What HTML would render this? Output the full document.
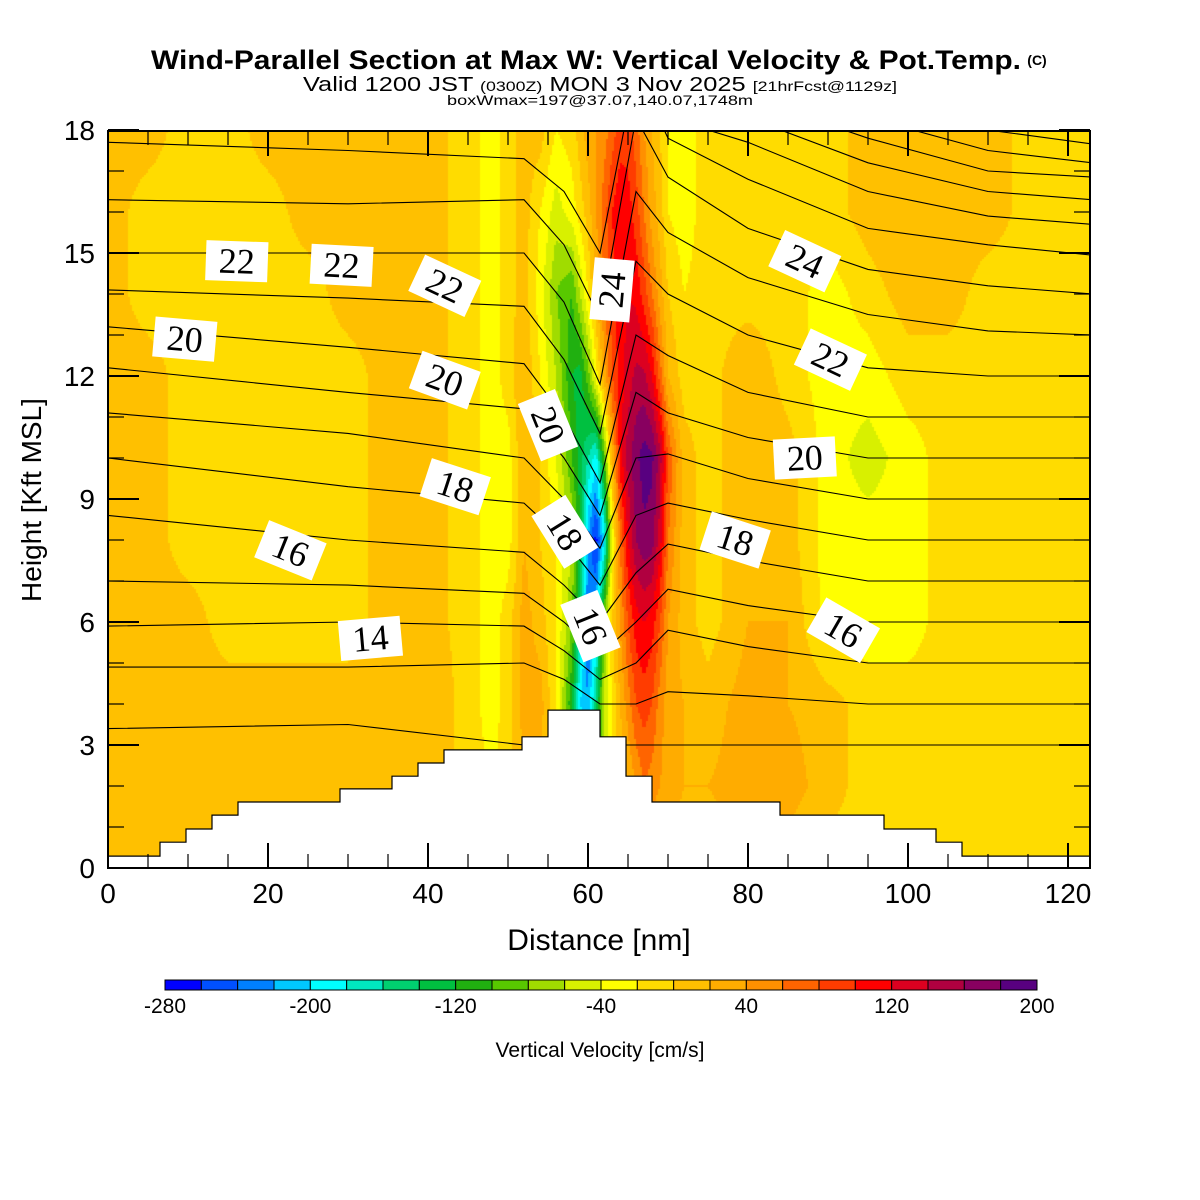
<!DOCTYPE html>
<html><head><meta charset="utf-8">
<style>
html,body{margin:0;padding:0;background:#fff;}
#wrap{position:relative;width:1200px;height:1200px;overflow:hidden;font-family:"Liberation Sans",sans-serif;}
#field{position:absolute;left:108px;top:131px;}
#ov{position:absolute;left:0;top:0;}
</style></head>
<body>
<div id="wrap">
<canvas id="field" width="982" height="737"></canvas>
<svg id="ov" width="1200" height="1200" xmlns="http://www.w3.org/2000/svg">
<defs><clipPath id="pc"><rect x="108" y="131" width="982" height="737"/></clipPath></defs>
<g id="contours" clip-path="url(#pc)"></g>
<g id="terrain"></g>
<g id="labels"></g>
<rect x="108" y="131" width="982" height="737" fill="none" stroke="#000" stroke-width="2"/>
<g id="axes"></g>
<text x="586" y="69" text-anchor="middle" font-family="'Liberation Sans Narrow','Liberation Sans',sans-serif" font-weight="bold" font-size="27" textLength="870" lengthAdjust="spacingAndGlyphs">Wind-Parallel Section at Max W: Vertical Velocity &amp; Pot.Temp.</text>
<text x="1037" y="65" text-anchor="middle" font-family="'Liberation Sans Narrow','Liberation Sans',sans-serif" font-weight="bold" font-size="14">(C)</text>
<text x="600" y="91" text-anchor="middle" font-family="'Liberation Sans Narrow','Liberation Sans',sans-serif" font-size="20" textLength="594" lengthAdjust="spacingAndGlyphs">Valid 1200 JST <tspan font-size="14">(0300Z)</tspan> MON 3 Nov 2025 <tspan font-size="14">[21hrFcst@1129z]</tspan></text>
<text x="600" y="105" text-anchor="middle" font-family="'Liberation Sans Narrow','Liberation Sans',sans-serif" font-size="14" textLength="306" lengthAdjust="spacingAndGlyphs">boxWmax=197@37.07,140.07,1748m</text>
<text x="599" y="950" text-anchor="middle" font-size="30">Distance [nm]</text>
<text transform="translate(41,500) rotate(-90)" text-anchor="middle" font-size="28">Height [Kft MSL]</text>
<g id="cbar"></g>
<text x="600" y="1057" text-anchor="middle" font-size="21">Vertical Velocity [cm/s]</text>
</svg>
</div>
<script>
// ---- data ----
const colors=["#0000FF","#0050FF","#0080FF","#00C8FF","#00FFFF","#00E8C0","#00D070","#00C040","#20B010","#58C800","#A0DC00","#D8F000","#FFFF00","#FFDC00","#FFC000","#FFAC00","#FF9000","#FF6400","#FF3C00","#FF0000","#DC0020","#B00040","#880060","#580080"];
const cbarTicks=[-280,-200,-120,-40,40,120,200];
const gridX=[0,5,10,15,20,25,30,35,40,45,48,50,52,54,56,58,59,60,61,62,63,64,65,66,67,68,69,70,72,75,80,85,90,95,100,105,110,116,123];
const gridZ=[0,2,4,6,8,10,12,14,16,18];
const w0 =[10,10,10,10,10,10,10,10,10,10,10,10,10,10,10,10,10,10,10,10,10,10,10,10,10,10,10,10,10,10,10,10,-10,-10,-10,-10,-10,-10,-10];
const w2 =[10,10,10,10,10,10,10,10,20,-10,-20,-10,20,20,0,-60,-100,-120,-100,-40,-20,0,20,40,60,50,40,30,20,20,30,30,10,-10,-10,-10,-10,-10,-10];
const w4 =[10,10,10,10,10,10,10,10,20,-10,-30,-10,30,30,-20,-120,-200,-220,-150,-60,-20,20,50,80,90,80,50,30,20,10,30,20,10,-10,-10,-10,-10,-10,-10];
const w6 =[10,10,10,-10,-10,-10,-10,10,10,-10,-30,-10,30,10,-20,-80,-160,-240,-200,-80,0,40,80,110,120,110,80,40,10,-10,20,20,-30,-30,-30,-10,-10,-10,-10];
const w8 =[10,10,-10,-10,-10,-10,-10,10,10,-10,-30,-30,20,0,-20,-60,-120,-220,-270,-200,-40,60,120,160,175,170,130,60,10,-10,20,10,-30,-30,-30,-10,-10,-10,-10];
const w10=[10,10,-10,-10,-10,-10,-10,10,10,-10,-30,-30,20,0,-40,-100,-130,-160,-190,-100,20,110,150,175,190,185,150,80,10,-10,20,10,-30,-50,-30,-10,-10,-10,-10];
const w12=[10,10,-10,-10,-10,-10,-10,10,10,-10,-30,-10,20,-20,-60,-120,-130,-90,-30,30,80,110,130,145,145,120,70,20,-10,-10,20,-10,-30,-30,-10,-10,-10,-10,-10];
const w14=[10,-10,-10,-10,-10,-10,10,10,10,-10,-30,-10,10,-30,-80,-100,-60,-20,20,60,90,110,120,115,90,60,30,0,-20,-10,-10,-10,-30,-10,10,10,-10,-10,-10];
const w16=[10,-10,-10,-10,-10,10,10,10,10,-10,-30,-10,10,-20,-50,-30,-10,10,40,70,100,115,110,90,60,30,10,-20,-30,-10,-10,-10,-10,10,20,10,10,-10,-10];
const w18=[10,10,-10,-10,10,10,10,10,10,-10,-30,-10,10,10,-20,-10,10,30,40,50,70,90,90,70,40,20,0,-20,-30,-10,-10,-10,-10,10,10,10,10,-10,-10];
const wRows=[w0,w2,w4,w6,w8,w10,w12,w14,w16,w18];

const terrainEdges=[0,6.5,9.75,13,16.25,29,35.5,38.75,42,51.75,55,61.5,64.75,68,84,97,103.5,106.75,122.75];
const terrainTop=[0.29,0.63,0.95,1.29,1.61,1.93,2.24,2.56,2.88,3.2,3.85,3.2,2.24,1.61,1.29,0.95,0.63,0.29];

const contourX=[0,30,52,57,61.5,66,70,80,95,110,123];
const th0 =[3.4,3.5,3.0,3.0,3.0,3.0,3.0,3.0,3.0,3.0,3.0];
const th1 =[4.9,4.9,5.0,4.6,4.0,4.0,4.3,4.2,4.0,4.0,4.0];
const th2 =[5.9,6.0,5.9,5.3,4.6,5.0,5.8,5.4,5.0,5.0,5.0];
const th3 =[7.0,6.9,6.7,6.0,5.2,6.0,6.8,6.4,6.0,6.0,6.0];
const th4 =[8.6,8.0,7.7,6.9,6.0,7.2,7.9,7.5,7.0,7.0,7.0];
const th5 =[10.0,9.3,8.9,8.0,6.9,8.6,8.9,8.5,8.0,8.0,8.0];
const th6 =[11.1,10.6,10.0,9.0,7.8,10.0,10.1,9.5,9.0,9.0,9.0];
const th7 =[12.2,11.6,11.2,10.0,8.6,11.6,11.1,10.5,10.0,10.0,10.0];
const th8 =[13.2,12.7,12.3,11.0,9.4,13.0,12.5,11.6,11.0,11.0,11.0];
const th9 =[14.1,13.9,13.7,12.4,10.6,14.8,14.0,13.0,12.2,12.0,12.0];
const th10=[15.0,15.0,15.0,13.8,11.8,16.5,15.5,14.4,13.5,13.1,13.0];
const th11=[16.3,16.2,16.3,15.2,13.4,18.3,16.85,15.6,14.6,14.2,14.0];
const th12=[17.7,17.5,17.3,16.5,15.0,19.5,17.8,16.8,15.6,15.2,14.95];
const th13=[19.0,19.0,19.0,19.0,18.2,20.0,18.3,17.7,16.5,15.9,15.7];
const th14=[19.5,19.5,19.5,19.5,18.5,20.2,18.6,18.3,17.2,16.5,16.3];
const th15=[20.0,20.0,20.0,20.0,18.8,20.4,19.0,18.8,17.8,17.0,16.85];
const th16=[20.5,20.5,20.5,20.5,19.0,20.6,19.3,19.3,18.3,17.5,17.2];
const th17=[21.0,21.0,21.0,21.0,19.2,20.8,19.6,19.8,18.9,18.0,17.66];
const thetaLines=[th0,th1,th2,th3,th4,th5,th6,th7,th8,th9,th10,th11,th12,th13,th14,th15,th16,th17];

const labelText=["22","22","22","20","20","18","16","14","24","20","18","16","24","22","20","18","16"];
const labelX=[16.1,29.2,42.1,9.6,42.1,43.4,22.8,32.8,63.0,55.0,57.1,60.3,87.1,90.3,87.1,78.4,91.9];
const labelZ=[14.8,14.7,14.2,12.9,11.9,9.3,7.75,5.6,14.1,10.8,8.2,5.9,14.8,12.4,10.0,8.0,5.8];
const labelRot=[2,3,25,5,20,18,22,-5,-85,68,58,68,25,25,-3,18,30];

// ---- scales ----
const X0=108,PX_NM=8,Y0=868,PX_KFT=41;
function sx(v){return X0+v*PX_NM;}
function sy(v){return Y0-v*PX_KFT;}
const NS="http://www.w3.org/2000/svg";
function mk(tag,attrs,parent){const e=document.createElementNS(NS,tag);for(const k in attrs)e.setAttribute(k,attrs[k]);parent.appendChild(e);return e;}

function seg(arr,v){let i=0;while(i<arr.length-2&&v>arr[i+1])i++;return i;}
function field(x,z){
  const i=seg(gridX,x),j=seg(gridZ,z);
  const tx=Math.max(0,Math.min(1,(x-gridX[i])/(gridX[i+1]-gridX[i])));
  const tz=Math.max(0,Math.min(1,(z-gridZ[j])/(gridZ[j+1]-gridZ[j])));
  const a=wRows[j][i],b=wRows[j][i+1],c=wRows[j+1][i],d=wRows[j+1][i+1];
  return (a*(1-tx)+b*tx)*(1-tz)+(c*(1-tx)+d*tx)*tz;
}
function colorFor(v){let k=Math.floor((v+280)/20);if(k<0)k=0;if(k>23)k=23;return colors[k];}

// shading
const cv=document.getElementById('field'),ctx=cv.getContext('2d');
const S=2;
for(let py=0;py<737;py+=S){
  for(let px=0;px<982;px+=S){
    const x=(px+S/2)/PX_NM, z=(737-(py+S/2))/PX_KFT;
    ctx.fillStyle=colorFor(field(x,z));
    ctx.fillRect(px,py,S,S);
  }
}

// contours
const cg=document.getElementById('contours');
thetaLines.forEach((line,li)=>{
  let d='';
  line.forEach((z,k)=>{d+=(k?'L':'M')+sx(contourX[k]).toFixed(1)+','+sy(z).toFixed(1);});
  const p=mk('path',{d:d,fill:'none',stroke:'#000','stroke-width':1.1},cg);
  
  
});

// terrain
const tg=document.getElementById('terrain');
let td='M'+sx(terrainEdges[0])+','+(Y0);
for(let k=0;k<terrainTop.length;k++){
  td+='L'+sx(terrainEdges[k]).toFixed(1)+','+sy(terrainTop[k]).toFixed(1);
  td+='L'+sx(terrainEdges[k+1]).toFixed(1)+','+sy(terrainTop[k]).toFixed(1);
}
td+='L'+sx(terrainEdges[terrainEdges.length-1])+','+Y0+'Z';
const tp=mk('path',{d:td,fill:'#fff',stroke:'#000','stroke-width':1.2},tg);



// contour labels
const lg=document.getElementById('labels');
labelText.forEach((t,k)=>{
  const g=mk('g',{transform:'translate('+sx(labelX[k]).toFixed(1)+','+sy(labelZ[k]).toFixed(1)+') rotate('+labelRot[k]+')'},lg);
  
  
  mk('rect',{x:-31,y:-20,width:62,height:40,fill:'#fff'},g);
  const tx=mk('text',{x:0,y:12,'text-anchor':'middle','font-family':"'Liberation Serif',serif",'font-size':36,fill:'#000'},g);
  tx.textContent=t;
});

// axes
const ag=document.getElementById('axes');
for(let v=0;v<=18;v++){
  const y=sy(v),L=(v%3===0)?31:16;
  mk('line',{x1:108,y1:y,x2:108+L,y2:y,stroke:'#000','stroke-width':(v%3===0)?2:1.2},ag);
  mk('line',{x1:1090,y1:y,x2:1090-L,y2:y,stroke:'#000','stroke-width':(v%3===0)?2:1.2},ag);
  if(v%3===0){
    const t=mk('text',{x:95,y:y+10,'text-anchor':'end','font-size':28},ag);
    t.textContent=v;
    
    
  }
}
for(let v=0;v<=120;v+=5){
  const x=sx(v),L=(v%20===0)?25:14;
  mk('line',{x1:x,y1:868,x2:x,y2:868-L,stroke:'#000','stroke-width':(v%20===0)?2:1.2},ag);
  mk('line',{x1:x,y1:131,x2:x,y2:131+L,stroke:'#000','stroke-width':(v%20===0)?2:1.2},ag);
  if(v%20===0){
    const t=mk('text',{x:x,y:903,'text-anchor':'middle','font-size':28},ag);
    t.textContent=v;
    
    
  }
}

// colorbar
const cb=document.getElementById('cbar');
const CB0=165,CBW=(1037-165)/colors.length;
colors.forEach((c,k)=>{
  const r=mk('rect',{x:CB0+k*CBW,y:980,width:CBW,height:10,fill:c,stroke:'#000','stroke-width':1},cb);
  
  
});
cbarTicks.forEach(v=>{
  const t=mk('text',{x:CB0+(v+280)/20*CBW,y:1013,'text-anchor':'middle','font-size':21},cb);
  t.textContent=v;
  
  
});
</script>
</body></html>
